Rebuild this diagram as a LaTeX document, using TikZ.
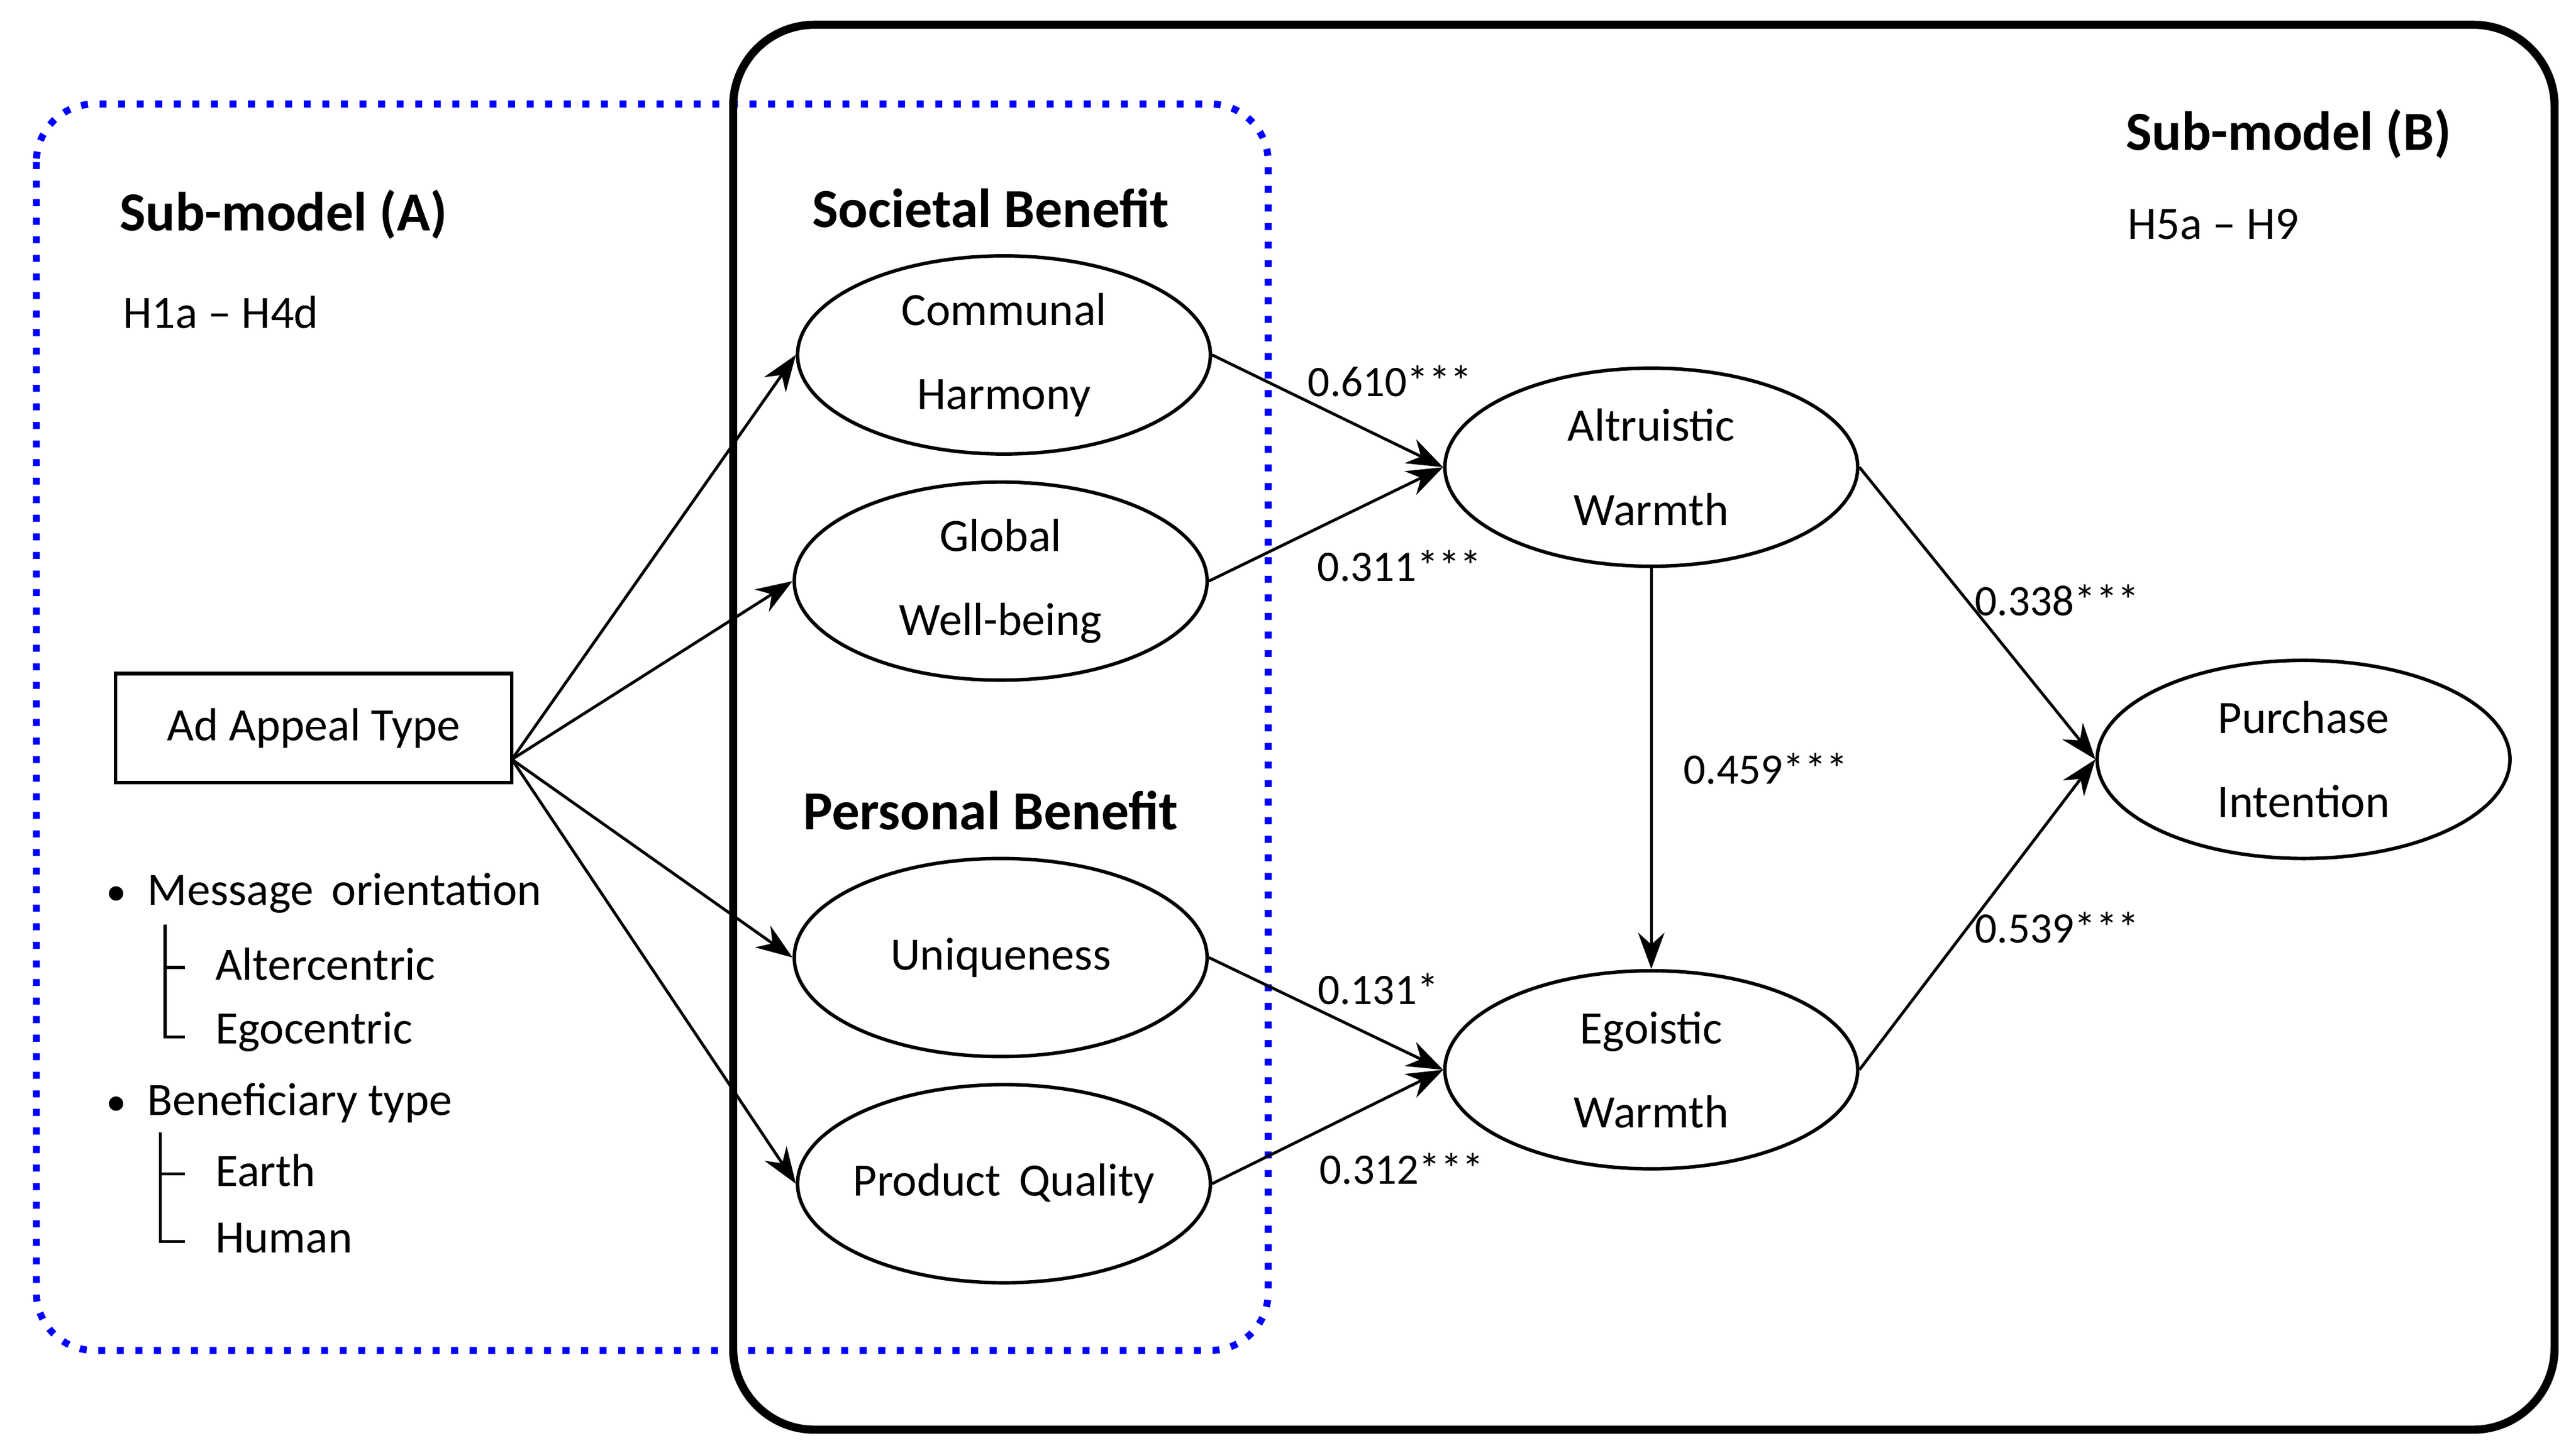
\documentclass[tikz,border=0pt]{standalone}
\usepackage{fontspec}
\setmainfont{Carlito}
\usetikzlibrary{arrows.meta,shapes.geometric}
\begin{document}
\begin{tikzpicture}[x=0.1mm,y=-0.1mm,font=\fontsize{8}{9.5}\selectfont,
 ell/.style={draw,ellipse,minimum width=25mm,minimum height=12mm,line width=0.6pt,align=center,inner sep=-2pt},
 arr/.style={-{Stealth[length=2.2mm,width=1.6mm]},line width=0.5pt},
 lab/.style={font=\fontsize{7.5}{9}\selectfont}]
\useasboundingbox (0,0) rectangle (1560,877);
\draw[blue,dotted,line width=1.2pt,rounded corners=10] (22,63) rectangle (768,818);
\draw[line width=1.4pt,rounded corners=14] (444,15) rectangle (1547,866);
\node[font=\fontsize{9.5}{12}\selectfont\bfseries,anchor=west] (sa) at (60,130) {Sub-model (A)};
\node[anchor=west] (ha) at (62,189) {H1a -- H4d};
\node[font=\fontsize{9.5}{12}\selectfont\bfseries,anchor=west] (sb) at (1275,81) {Sub-model (B)};
\node[anchor=west] (hb) at (1276,136) {H5a -- H9};
\node[font=\fontsize{9.5}{12}\selectfont\bfseries] (sob) at (600,126) {Societal Benefit};
\node[font=\fontsize{9.5}{12}\selectfont\bfseries] (pb) at (600,491) {Personal Benefit};
\node[ell] (ch) at (608,215) {Communal\\[5pt]Harmony};
\node[ell] (gw) at (606,352) {Global\\[5pt]Well-being};
\node[ell] (un) at (606,580) {Uniqueness};
\node[ell] (pq) at (608,717) {Product\, Quality};
\node[ell] (aw) at (1000,283) {Altruistic\\[5pt]Warmth};
\node[ell] (ew) at (1000,648) {Egoistic\\[5pt]Warmth};
\node[ell] (pi) at (1395,460) {Purchase\\[5pt]Intention};
\node[draw,line width=0.6pt,minimum width=24mm,minimum height=6.6mm] (ad) at (190,441) {Ad Appeal Type};
\coordinate (o) at (310,460);
\foreach \t in {ch,gw,un,pq} \draw[arr] (o) -- (\t.west);
\draw[arr] (ch.east) -- node[lab,pos=0.4,above right=-3pt] {0.610***} (aw.west);
\draw[arr] (gw.east) -- node[lab,pos=0.4,below right=-1pt] {0.311***} (aw.west);
\draw[arr] (un.east) -- node[lab,pos=0.45,above right=-3pt] {0.131*} (ew.west);
\draw[arr] (pq.east) -- node[lab,pos=0.4,below right=-1pt] {0.312***} (ew.west);
\draw[arr] (aw.south) -- node[lab,right=2pt] {0.459***} (ew.north);
\draw[arr] (aw.east) -- node[lab,pos=0.5,above right=-4pt] {0.338***} (pi.west);
\draw[arr] (ew.east) -- node[lab,pos=0.5,below right=-4pt] {0.539***} (pi.west);
\node[anchor=west] (l1) at (52,541) {{\scriptsize\textbullet}\ \ Message\, orientation};
\node[anchor=west] (l2) at (118,584) {Altercentric};
\node[anchor=west] (l3) at (118,625) {Egocentric};
\node[anchor=west] (l4) at (52,668) {{\scriptsize\textbullet}\ \ Beneficiary type};
\node[anchor=west] (l5) at (118,709) {Earth};
\node[anchor=west] (l6) at (118,750) {Human};
\draw[line width=0.5pt] (100,560) -- (100,628) -- (112,628) (100,586) -- (112,586);
\draw[line width=0.5pt] (97,686) -- (97,752) -- (112,752) (97,711) -- (112,711);
\end{tikzpicture}
\end{document}
